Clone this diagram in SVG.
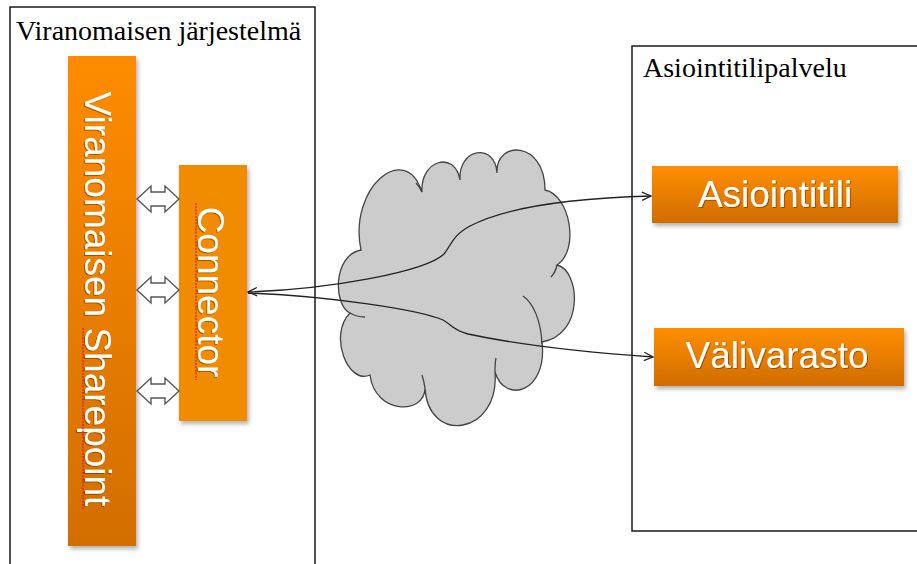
<svg xmlns="http://www.w3.org/2000/svg" width="917" height="564" viewBox="0 0 917 564">
<style>
.frame{fill:none;stroke:#1a1a1a;stroke-width:1.5}
.title{font-family:"Liberation Serif","Times New Roman",serif;font-size:28px;fill:#000}
.lbl{font-family:"Liberation Sans",Arial,sans-serif;font-size:37px;fill:#fff}
.dbl{fill:#fff;stroke:#555;stroke-width:1.4;stroke-linejoin:miter}
.conn{fill:none;stroke:#222;stroke-width:1.3}
.cloud{fill:#cccccc;stroke:#444;stroke-width:1.3}
.tail{fill:none;stroke:#444;stroke-width:1.3}
.squig{fill:none;stroke:#e02020;stroke-width:1.4;stroke-dasharray:2 1.2}
</style>
<defs>
<linearGradient id="gOrange" x1="0" y1="0" x2="0" y2="1">
<stop offset="0" stop-color="#ff8f00"/>
<stop offset="1" stop-color="#d06c00"/>
</linearGradient>
<linearGradient id="gBar" x1="0" y1="0" x2="0" y2="1">
<stop offset="0" stop-color="#ff8c00"/>
<stop offset="1" stop-color="#d26e00"/>
</linearGradient>
<filter id="shadow" x="-20%" y="-20%" width="140%" height="140%">
<feDropShadow dx="2" dy="3" stdDeviation="2" flood-color="#000" flood-opacity="0.3"/>
</filter>
<filter id="tshadow" x="-5%" y="-5%" width="110%" height="110%">
<feDropShadow dx="1" dy="1" stdDeviation="0.6" flood-color="#000" flood-opacity="0.35"/>
</filter>
<marker id="arr" markerUnits="userSpaceOnUse" markerWidth="12" markerHeight="12" refX="10" refY="5" orient="auto-start-reverse" viewBox="0 0 12 10">
<path d="M1,0.8 L10,5 L1,9.2" fill="none" stroke="#222" stroke-width="1.3"/>
</marker>
</defs>

<g id="viranomaisen-jarjestelma">
<rect class="frame" x="10" y="7" width="305" height="600"/>
<text class="title" x="16" y="40">Viranomaisen järjestelmä</text>
</g>

<g id="asiointitilipalvelu">
<rect class="frame" x="632" y="46" width="300" height="485"/>
<text class="title" x="643" y="77">Asiointitilipalvelu</text>
</g>

<g id="sharepoint">
<rect x="68" y="56" width="68" height="490" fill="url(#gBar)" filter="url(#shadow)"/>
<text class="lbl" transform="translate(85,299) rotate(90)" text-anchor="middle" filter="url(#tshadow)">Viranomaisen Sharepoint</text>
<path class="squig" d="M83,328 L83,510"/>
</g>

<g id="connector">
<rect x="179" y="165" width="68" height="256" fill="#f18c00" filter="url(#shadow)"/>
<text class="lbl" transform="translate(198,292) rotate(90)" text-anchor="middle" filter="url(#tshadow)">Connector</text>
<path class="squig" d="M196,203 L196,380"/>
</g>

<g id="cloud">
<path class="cloud" d="M361,250 C348,188 405,140 422,192 C420,160 455,150 460,180 C458,148 495,142 497,173 C495,140 545,140 545,190 C570,195 580,250 557,265 C580,270 585,335 542,342 C548,392 505,405 495,372 C500,435 428,445 425,388 C425,415 375,415 370,375 C348,385 328,335 350,313 C333,305 333,255 361,250 Z"/>
<path class="tail" d="M542,344 C541,320 533,303 523,296"/>
<path class="tail" d="M350,313 C355,316 360,317 365,317"/>
<path class="tail" d="M557,265 C556,270 554,274 551,277"/>
<path class="tail" d="M422,192 C420,188 418,185 416,183"/>
<path class="tail" d="M425,388 C424,382 423,378 422,375"/>
<path class="tail" d="M495,372 C495,366 495,362 496,358"/>
</g>

<g id="asiointitili">
<rect x="652" y="166" width="246" height="57" fill="url(#gOrange)" filter="url(#shadow)"/>
<text class="lbl" x="775" y="207" text-anchor="middle" filter="url(#tshadow)">Asiointitili</text>
</g>

<g id="valivarasto">
<rect x="654" y="328" width="250" height="58" fill="url(#gOrange)" filter="url(#shadow)"/>
<text class="lbl" x="777" y="368" text-anchor="middle" filter="url(#tshadow)">Välivarasto</text>
</g>

<g id="connectors">
<path class="dbl" d="M137,199 L151,186 L151,192 L165,192 L165,186 L179,199 L165,212 L165,206 L151,206 L151,212 Z"/>
<path class="dbl" d="M137,290 L151,277 L151,283 L165,283 L165,277 L179,290 L165,303 L165,297 L151,297 L151,303 Z"/>
<path class="dbl" d="M137,391 L151,378 L151,384 L165,384 L165,378 L179,391 L165,404 L165,398 L151,398 L151,404 Z"/>
<path class="conn" marker-start="url(#arr)" marker-end="url(#arr)" d="M248,292 C330,289 425,272 444,254 C452,244 452,236 470,226 C510,205 580,198 651,196"/>
<path class="conn" marker-end="url(#arr)" d="M248,293 C330,296 420,310 443,320 C452,325 452,330 468,334 C510,343 580,352 653,357"/>
</g>
</svg>
